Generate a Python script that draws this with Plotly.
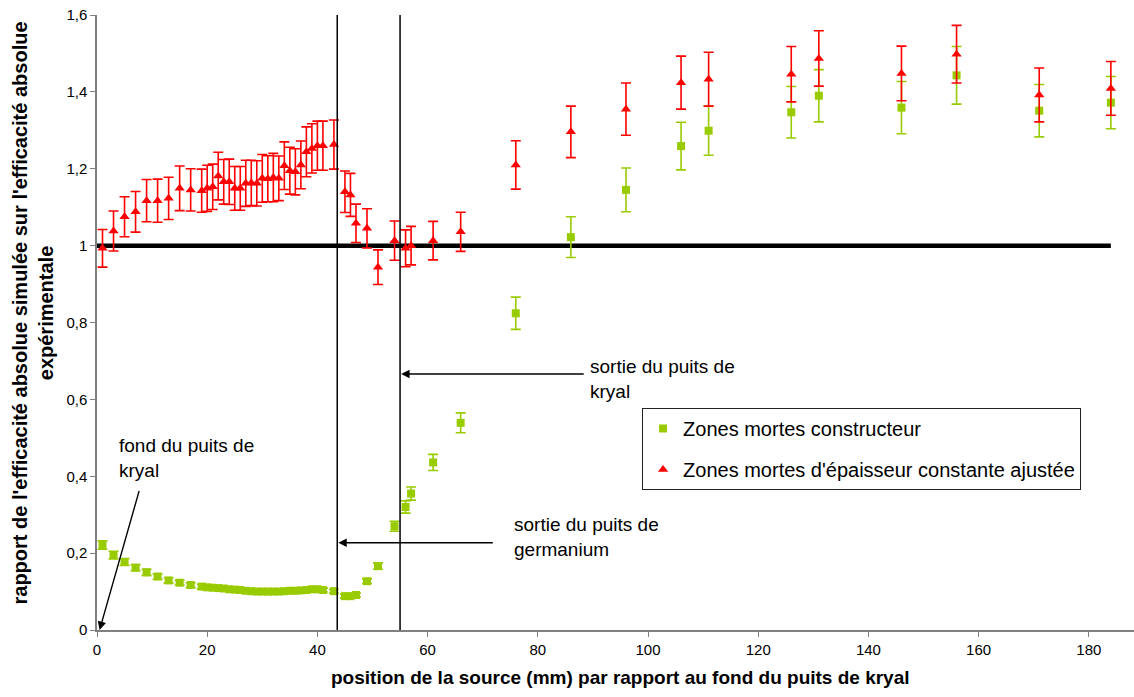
import plotly.graph_objects as go

# ---- data ----
positions = [1, 3, 5, 7, 9, 11, 13, 15, 17, 19, 20, 21, 22, 23, 24, 25, 26, 27, 28, 29, 30,
             31, 32, 33, 34, 35, 36, 37, 38, 39, 40, 41, 43, 45, 46, 47, 49, 51, 54, 56, 57,
             61, 66, 76, 86, 96, 106, 111, 126, 131, 146, 156, 171, 184]

constructeur = [0.221, 0.195, 0.177, 0.162, 0.150, 0.139, 0.129, 0.123, 0.117, 0.113, 0.111,
                0.110, 0.109, 0.108, 0.106, 0.105, 0.104, 0.102, 0.101, 0.100, 0.100, 0.100,
                0.100, 0.100, 0.101, 0.102, 0.102, 0.103, 0.104, 0.106, 0.106, 0.104, 0.101,
                0.088, 0.088, 0.091, 0.127, 0.166, 0.270, 0.320, 0.355, 0.436, 0.539, 0.824,
                1.022, 1.145, 1.259, 1.299, 1.347, 1.390, 1.359, 1.443, 1.351, 1.372]
constructeur_err = [0.011, 0.010, 0.009, 0.008, 0.008, 0.007, 0.007, 0.006, 0.006, 0.006, 0.006,
                    0.006, 0.005, 0.005, 0.005, 0.005, 0.005, 0.005, 0.005, 0.005, 0.005, 0.005,
                    0.005, 0.005, 0.005, 0.005, 0.005, 0.005, 0.005, 0.005, 0.005, 0.005, 0.005,
                    0.005, 0.005, 0.005, 0.006, 0.008, 0.013, 0.016, 0.017, 0.021, 0.026, 0.042,
                    0.053, 0.057, 0.062, 0.064, 0.067, 0.068, 0.068, 0.075, 0.068, 0.068]

ajustee = [0.993, 1.038, 1.075, 1.088, 1.117, 1.117, 1.123, 1.149, 1.145, 1.143, 1.149,
           1.153, 1.181, 1.166, 1.166, 1.149, 1.149, 1.162, 1.163, 1.162, 1.175, 1.174,
           1.177, 1.175, 1.208, 1.195, 1.192, 1.210, 1.244, 1.253, 1.260, 1.260, 1.263,
           1.140, 1.132, 1.058, 1.045, 0.944, 1.013, 0.993, 1.000, 1.013, 1.036, 1.210,
           1.296, 1.355, 1.424, 1.433, 1.446, 1.487, 1.448, 1.498, 1.392, 1.409]
ajustee_err = [0.049, 0.052, 0.052, 0.053, 0.055, 0.056, 0.055, 0.058, 0.055, 0.056, 0.060,
               0.059, 0.062, 0.058, 0.059, 0.057, 0.057, 0.060, 0.059, 0.059, 0.062, 0.060,
               0.063, 0.058, 0.062, 0.061, 0.060, 0.062, 0.065, 0.064, 0.064, 0.064, 0.064,
               0.054, 0.056, 0.050, 0.051, 0.045, 0.051, 0.048, 0.050, 0.050, 0.051, 0.063,
               0.067, 0.068, 0.069, 0.070, 0.072, 0.072, 0.071, 0.075, 0.070, 0.070]

reference_x = [0, 184]
reference_y = [1, 1]

germanium_exit = 43.6
kryal_exit = 55.0

y_tickvals = [0, 0.2, 0.4, 0.6, 0.8, 1.0, 1.2, 1.4, 1.6]
y_ticktext = ["0", "0,2", "0,4", "0,6", "0,8", "1", "1,2", "1,4", "1,6"]
x_tickvals = [0, 20, 40, 60, 80, 100, 120, 140, 160, 180]

FONT = "Liberation Sans, Arial, sans-serif"
GREEN = "#99CC00"
RED = "#FF0000"

fig = go.Figure()

fig.add_trace(go.Scatter(
    x=reference_x, y=reference_y, mode="lines",
    line=dict(color="black", width=4.5), showlegend=False, hoverinfo="skip"))

fig.add_trace(go.Scatter(
    x=positions, y=constructeur, mode="markers",
    name="Zones mortes constructeur", legendgroup="a",
    marker=dict(symbol="square", size=8, color=GREEN),
    error_y=dict(type="data", array=constructeur_err, color=GREEN, thickness=1.6, width=5)))

fig.add_trace(go.Scatter(
    x=positions, y=ajustee, mode="markers",
    name="Zones mortes d'épaisseur constante ajustée", legendgroup="b",
    marker=dict(symbol="triangle-up", size=9, color=RED),
    error_y=dict(type="data", array=ajustee_err, color=RED, thickness=1.6, width=5)))

for xv in (germanium_exit, kryal_exit):
    fig.add_shape(type="line", xref="x", yref="paper", x0=xv, x1=xv, y0=0, y1=1,
                  line=dict(color="black", width=1.5))

txt_font = dict(family=FONT, size=19, color="black")
annotations = [
    dict(x=3.7, y=0.447, xref="x", yref="y", text="fond du puits de<br>kryal",
         showarrow=False, xanchor="left", yanchor="middle", align="left", font=txt_font),
    dict(x=75.4, y=0.243, xref="x", yref="y", text="sortie du puits de<br>germanium",
         showarrow=False, xanchor="left", yanchor="middle", align="left", font=txt_font),
    dict(x=89.1, y=0.654, xref="x", yref="y", text="sortie du puits de<br>kryal",
         showarrow=False, xanchor="left", yanchor="middle", align="left", font=txt_font),
    # arrows
    dict(x=0.47, y=0.0, ax=7.73, ay=0.366, xref="x", yref="y", axref="x", ayref="y",
         text="", showarrow=True, arrowhead=2, arrowsize=1.2, arrowwidth=1.4, arrowcolor="black"),
    dict(x=germanium_exit + 0.2, y=0.227, ax=72.1, ay=0.227, xref="x", yref="y", axref="x", ayref="y",
         text="", showarrow=True, arrowhead=2, arrowsize=1.2, arrowwidth=1.4, arrowcolor="black"),
    dict(x=kryal_exit + 0.2, y=0.666, ax=88.6, ay=0.666, xref="x", yref="y", axref="x", ayref="y",
         text="", showarrow=True, arrowhead=2, arrowsize=1.2, arrowwidth=1.4, arrowcolor="black"),
    # axis titles
    dict(x=0.505, y=-0.077, xref="paper", yref="paper", xanchor="center", yanchor="middle",
         text="<b>position de la source (mm) par rapport au fond du puits de kryal</b>",
         showarrow=False, font=dict(family=FONT, size=19, color="black")),
    dict(x=-0.0615, y=0.515, xref="paper", yref="paper", xanchor="center", yanchor="middle",
         text="<b>rapport de l'efficacité absolue simulée sur l'efficacité absolue<br>expérimentale</b>",
         showarrow=False, textangle=-90, font=dict(family=FONT, size=20, color="black")),
]

fig.update_layout(
    width=1134, height=697, autosize=False,
    margin=dict(l=97, r=0, t=15, b=67, autoexpand=False),
    plot_bgcolor="white", paper_bgcolor="white",
    font=dict(family=FONT, color="black"),
    annotations=annotations,
    showlegend=True,
    legend=dict(x=0.5256, y=0.361, xanchor="left", yanchor="top",
                bgcolor="white", bordercolor="#222222", borderwidth=1,
                font=dict(family=FONT, size=20, color="black"),
                tracegroupgap=12, traceorder="grouped",
                entrywidth=405, entrywidthmode="pixels", itemsizing="trace"),
    xaxis=dict(range=[0, 188.2], tickvals=x_tickvals, showgrid=False, zeroline=False,
               showline=True, linecolor="#808080", linewidth=1.5, ticks="outside", ticklen=5,
               tickcolor="#808080", ticklabeloverflow="allow", automargin=False,
               tickfont=dict(family=FONT, size=15, color="black")),
    yaxis=dict(range=[0, 1.6], tickvals=y_tickvals, ticktext=y_ticktext, showgrid=False,
               zeroline=False, showline=True, linecolor="#808080", linewidth=1.5,
               ticks="outside", ticklen=5, tickcolor="#808080", ticklabeloverflow="allow",
               automargin=False, tickfont=dict(family=FONT, size=15, color="black")),
)

fig.write_html("out.html",
               config={"displayModeBar": False},
               post_script="document.body.style.margin='0';document.body.style.overflow='hidden';")
